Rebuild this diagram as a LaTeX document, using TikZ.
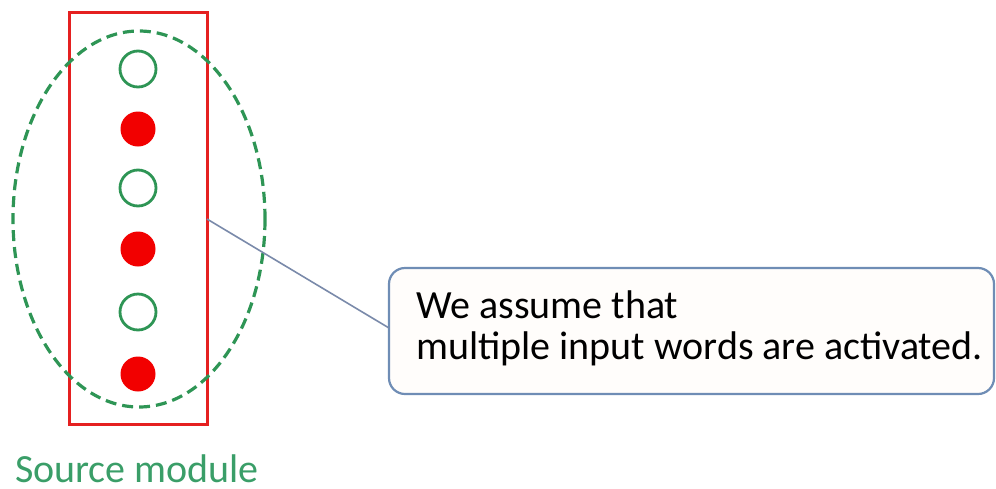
\documentclass[tikz,border=0pt]{standalone}
\usepackage{fontspec}
\setmainfont{Carlito}
\definecolor{nodegreen}{HTML}{2E9555}
\definecolor{labelgreen}{HTML}{3A9E68}
\definecolor{boxred}{HTML}{E52020}
\definecolor{dotred}{HTML}{F20000}
\definecolor{calloutedge}{HTML}{6F8DB5}
\definecolor{calloutfill}{HTML}{FFFDFB}
\definecolor{leader}{HTML}{7A8AAA}
\begin{document}
\begin{tikzpicture}[x=1pt,y=-1pt,
  inactive/.style={circle,draw=nodegreen,line width=2.8pt,minimum size=36pt,inner sep=0pt},
  active/.style={circle,fill=dotred,minimum size=35pt,inner sep=0pt},
  module/.style={draw=boxred,line width=3pt},
  group/.style={draw=nodegreen,line width=3.2pt,dash pattern=on 11pt off 6pt},
  callout/.style={draw=calloutedge,fill=calloutfill,line width=2.2pt,rounded corners=16pt},
  textfont/.style={font=\fontsize{40}{41}\selectfont},
  note/.style={textfont,align=left,anchor=north west,inner sep=0pt}]
  \useasboundingbox (0,0) rectangle (996,488);
  % word units in the source module
  \node[inactive] (u1) at (138,69) {};
  \node[active]   (u2) at (138,129) {};
  \node[inactive] (u3) at (138,188) {};
  \node[active]   (u4) at (138,249) {};
  \node[inactive] (u5) at (138,312) {};
  \node[active]   (u6) at (138,374) {};
  % module frame and grouping ellipse
  \draw[module] (69,12) rectangle (207,424);
  \draw[group] (139,219) ellipse [x radius=126, y radius=188];
  \coordinate (tap) at (207,219);
  % callout
  \draw[callout] (389,268) rectangle (994,394);
  \coordinate (tip) at (389,328);
  \draw[leader,line width=1.6pt] (tap) -- (tip);
  \node[note] (txt) at (416,291) {We assume that\\multiple input words are activated.};
  \node[textfont,text=labelgreen,anchor=base,inner sep=0pt] (lbl) at (137,482) {Source module};
\end{tikzpicture}
\end{document}
